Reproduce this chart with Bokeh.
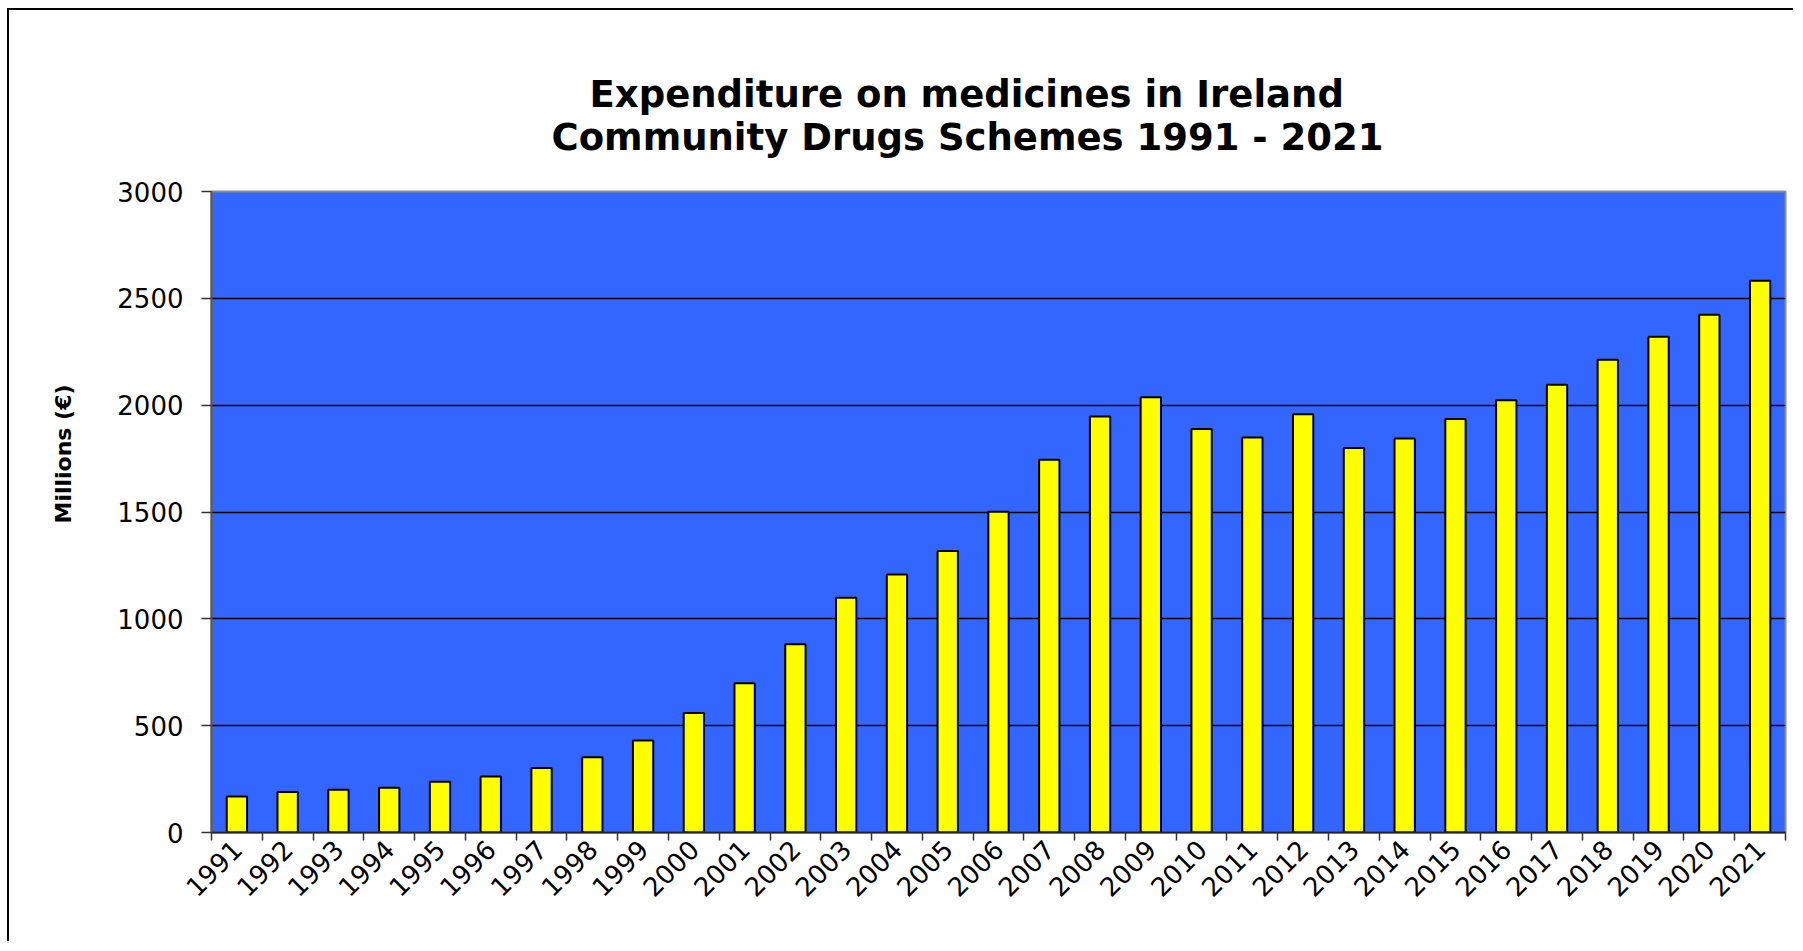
import math
from bokeh.plotting import figure
from bokeh.models import FixedTicker, Range1d, Title
from bokeh.embed import file_html
from bokeh.resources import INLINE

# ---- data ----
years = [1991, 1992, 1993, 1994, 1995, 1996, 1997, 1998, 1999, 2000,
         2001, 2002, 2003, 2004, 2005, 2006, 2007, 2008, 2009, 2010,
         2011, 2012, 2013, 2014, 2015, 2016, 2017, 2018, 2019, 2020, 2021]
spend = [168, 189, 200, 209, 238, 262, 302, 352, 431, 559,
         699, 881, 1099, 1208, 1318, 1501, 1744, 1947, 2037, 1889,
         1849, 1958, 1799, 1844, 1935, 2023, 2096, 2212, 2320, 2423, 2582]
y_ticks = [0, 500, 1000, 1500, 2000, 2500, 3000]
title_lines = ["Expenditure on medicines in Ireland",
               "Community Drugs Schemes 1991 - 2021"]
y_label = "Millions (\u20ac)"

FONT = "DejaVu Sans"

p = figure(width=1786, height=933, output_backend="svg", toolbar_location=None,
           x_range=Range1d(years[0] - 0.5, years[-1] + 0.5),
           y_range=Range1d(y_ticks[0], y_ticks[-1]),
           min_border_left=201, min_border_right=10,
           min_border_top=181, min_border_bottom=111,
           background_fill_color="#3366FF", border_fill_color="white",
           margin=(8, 0, 0, 7))
p.styles = {"border-top": "2px solid black", "border-left": "2px solid black"}
p.title.visible = False

p.outline_line_color = "#8c8c8c"
p.outline_line_width = 2

# bars
p.vbar(x=years, top=spend, width=0.4, fill_color="#FFFF00",
       line_color="black", line_width=2)

# title: two lines (first added sits nearest the frame)
p.add_layout(Title(text=title_lines[1], align="left", offset=340, standoff=66,
                   text_font=FONT, text_font_size="37px",
                   text_font_style="bold", text_color="black"), "above")
p.add_layout(Title(text=title_lines[0], align="left", offset=378, standoff=-70,
                   text_font=FONT, text_font_size="37px",
                   text_font_style="bold", text_color="black"), "above")

# y axis label as a side title so it can sit above the frame centre
p.add_layout(Title(text=y_label, align="left", offset=309, standoff=78,
                   text_font=FONT, text_font_size="22px",
                   text_font_style="bold", text_color="black"), "left")

# x axis: labels at year centres, ticks at boundaries (minor ticks)
xa = p.xaxis[0]
xa.ticker = FixedTicker(ticks=years, minor_ticks=[y - 0.5 for y in years] + [years[-1] + 0.5])
xa.major_tick_in = 0
xa.major_tick_out = 0
xa.minor_tick_in = 0
xa.minor_tick_out = 8
xa.minor_tick_line_color = "#333333"
xa.minor_tick_line_width = 1.5
xa.axis_line_color = "#222222"
xa.axis_line_width = 2
xa.major_label_orientation = math.pi / 4
xa.major_label_standoff = 4
xa.major_label_text_font = FONT
xa.major_label_text_font_size = "26px"
xa.major_label_text_color = "black"

# y axis
ya = p.yaxis[0]
ya.ticker = FixedTicker(ticks=y_ticks, minor_ticks=[])
ya.major_tick_in = 0
ya.major_tick_out = 10
ya.major_tick_line_color = "#333333"
ya.major_tick_line_width = 1.5
ya.axis_line_color = "#555555"
ya.axis_line_width = 2
ya.major_label_standoff = 18
ya.major_label_text_font = FONT
ya.major_label_text_font_size = "26px"
ya.major_label_text_color = "black"

# grid
p.xgrid.visible = False
p.ygrid.ticker = FixedTicker(ticks=y_ticks[1:-1])
p.ygrid.grid_line_color = "black"
p.ygrid.grid_line_width = 1.3

open("out.html", "w").write(file_html(p, INLINE))
